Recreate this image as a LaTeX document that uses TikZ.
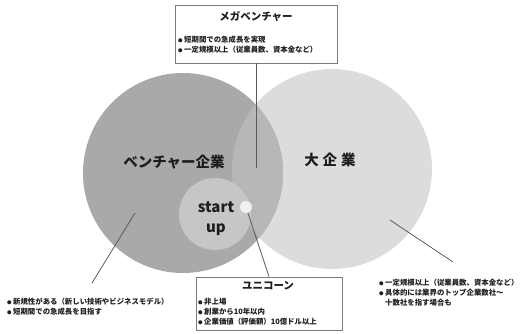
\documentclass[tikz,border=0pt]{standalone}
\usepackage{fontspec}
\setmainfont{Noto Sans CJK JP}
\definecolor{ventc}{HTML}{A9A9A9}
\definecolor{bigc}{HTML}{DCDCDC}
\definecolor{lensc}{HTML}{B7B7B7}
\definecolor{supc}{HTML}{C6C6C6}
\definecolor{unic}{HTML}{F0F0F0}
\definecolor{txt}{HTML}{1E1E1E}
\definecolor{boxline}{HTML}{7A7A7A}
\definecolor{conn}{HTML}{5A5A5A}
\newcommand{\blt}{{\fontsize{4.5}{5}\selectfont●}\hspace{1.5pt}}
\begin{document}
\begin{tikzpicture}[x=1pt,y=-1pt,
  infobox/.style={draw=boxline,line width=0.8pt,fill=white,inner sep=0pt},
  boxtitle/.style={font=\fontsize{10.5}{12}\selectfont\bfseries,text=txt,inner sep=0pt},
  bullets/.style={font=\fontsize{7.4}{10}\selectfont\bfseries,text=txt,align=left,inner sep=0pt,anchor=west},
  bigtext/.style={font=\fontsize{14.5}{16}\selectfont\bfseries,text=txt,inner sep=0pt},
  connector/.style={draw=conn,line width=0.8pt},
  disc/.style={circle,inner sep=0pt}]
\useasboundingbox (0,0) rectangle (523,333);
% circles
\node[disc,fill=bigc,minimum size=200pt] (big) at (332,169) {};
\node[disc,fill=ventc,minimum size=200pt] (vent) at (183,173) {};
\begin{scope}
  \clip (332,169) circle [radius=100pt];
  \fill[lensc] (183,173) circle [radius=100pt];
\end{scope}
\node[disc,fill=supc,minimum size=72pt] (sup) at (215,214) {};
\node[disc,fill=unic,minimum size=12pt] (uni) at (246,207) {};
% circle labels
\node[bigtext] (ventlabel) at (174,162) {ベンチャー企業};
\node[bigtext] (biglabel) at (330,160) {大\hspace{4pt}企\hspace{4pt}業};
\node[bigtext,align=center,font=\fontsize{15}{20}\selectfont\bfseries] (suplabel) at (216,219) {start\\up};
% mega venture box
\node[infobox,minimum width=162pt,minimum height=58pt] (megabox) at (256,34) {};
\node[boxtitle] (megatitle) at (256,17) {メガベンチャー};
\node[bullets] (megatext) at (178,45) {\blt 短期間での急成長を実現\\\blt 一定規模以上（従業員数、資本金など）};
% unicorn box
\node[infobox,minimum width=146pt,minimum height=53pt] (unibox) at (269,303.5) {};
\node[boxtitle] (unititle) at (268,286) {ユニコーン};
\node[bullets] (unitext) at (198,312) {\blt 非上場\\\blt 創業から10年以内\\\blt 企業価値（評価額）10億ドル以上};
% free texts
\node[bullets] (venttext) at (7,307) {\blt 新規性がある（新しい技術やビジネスモデル）\\\blt 短期間での急成長を目指す};
\node[bullets] (bigtext) at (379,293) {\blt 一定規模以上（従業員数、資本金など）\\\blt 具体的には業界のトップ企業数社～\\\hspace{6pt}十数社を指す場合も};
% connectors
\coordinate (megaend) at (256,168);
\coordinate (ventin) at (135,213);
\coordinate (ventout) at (92,283);
\coordinate (bigin) at (390,220);
\coordinate (bigout) at (453,262);
\draw[connector] (megabox.south) -- (megaend);
\draw[connector] (ventin) -- (ventout);
\draw[connector] (uni) -- (unibox.north);
\draw[connector] (bigin) -- (bigout);
\end{tikzpicture}
\end{document}
